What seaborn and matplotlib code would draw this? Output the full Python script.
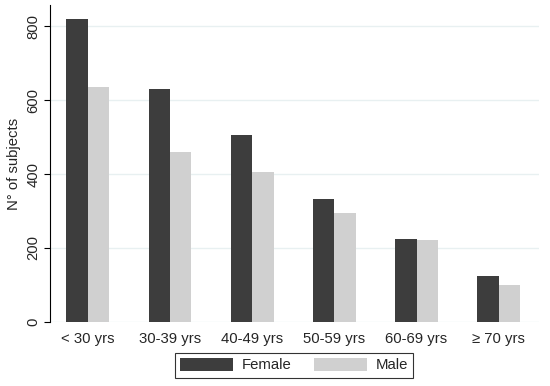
import matplotlib
matplotlib.use("Agg")
import matplotlib.pyplot as plt
import seaborn as sns
import pandas as pd
from matplotlib.patches import Patch

categories = ["< 30 yrs", "30-39 yrs", "40-49 yrs", "50-59 yrs", "60-69 yrs", "≥ 70 yrs"]
female = [819, 629, 506, 332, 223, 124]
male = [636, 459, 406, 294, 222, 99]
yticks = [0, 200, 400, 600, 800]

df = pd.DataFrame({
    "age": categories * 2,
    "count": female + male,
    "sex": ["Female"] * len(categories) + ["Male"] * len(categories),
})

sns.set_style("white")
plt.rcParams["font.family"] = ["Liberation Sans", "DejaVu Sans"]
FS = 10.7

fig = plt.figure(figsize=(5.5, 3.86), dpi=100)
ax = fig.add_axes([0.091, 0.166, 0.889, 0.821])

sns.barplot(data=df, x="age", y="count", hue="sex", order=categories,
            palette={"Female": "#3d3d3d", "Male": "#d0d0d0"},
            width=0.52, gap=0, saturation=1, ax=ax, legend=False,
            edgecolor="none", linewidth=0)

ax.set_xlim(-0.46, 5.49)
ax.set_ylim(0, 857)
ax.set_yticks(yticks)
ax.set_yticklabels([str(v) for v in yticks], rotation=90, va="center", fontsize=FS)
ax.tick_params(axis="y", which="both", left=True, length=4, width=0.8, color="black", pad=3)
ax.tick_params(axis="x", bottom=False, labelsize=FS, pad=4)
ax.set_xlabel("")
ax.set_ylabel("N° of subjects", fontsize=FS, labelpad=4)
ax.yaxis.grid(True, color="#e8f0f1", linewidth=1)
ax.set_axisbelow(True)
for s in ["top", "right", "bottom"]:
    ax.spines[s].set_visible(False)
ax.spines["left"].set_color("black")
ax.spines["left"].set_linewidth(0.8)

handles = [Patch(facecolor="#3d3d3d", edgecolor="none", label="Female"),
           Patch(facecolor="#d0d0d0", edgecolor="none", label="Male")]
leg = fig.legend(handles=handles, loc="center", bbox_to_anchor=(0.535, 0.054),
                 ncol=2, frameon=True, fancybox=False, fontsize=FS,
                 handlelength=3.56, handleheight=0.95, columnspacing=1.5,
                 handletextpad=0.6, borderpad=0.35, edgecolor="black")
leg.get_frame().set_linewidth(0.8)

fig.savefig("out.png", dpi=100)
